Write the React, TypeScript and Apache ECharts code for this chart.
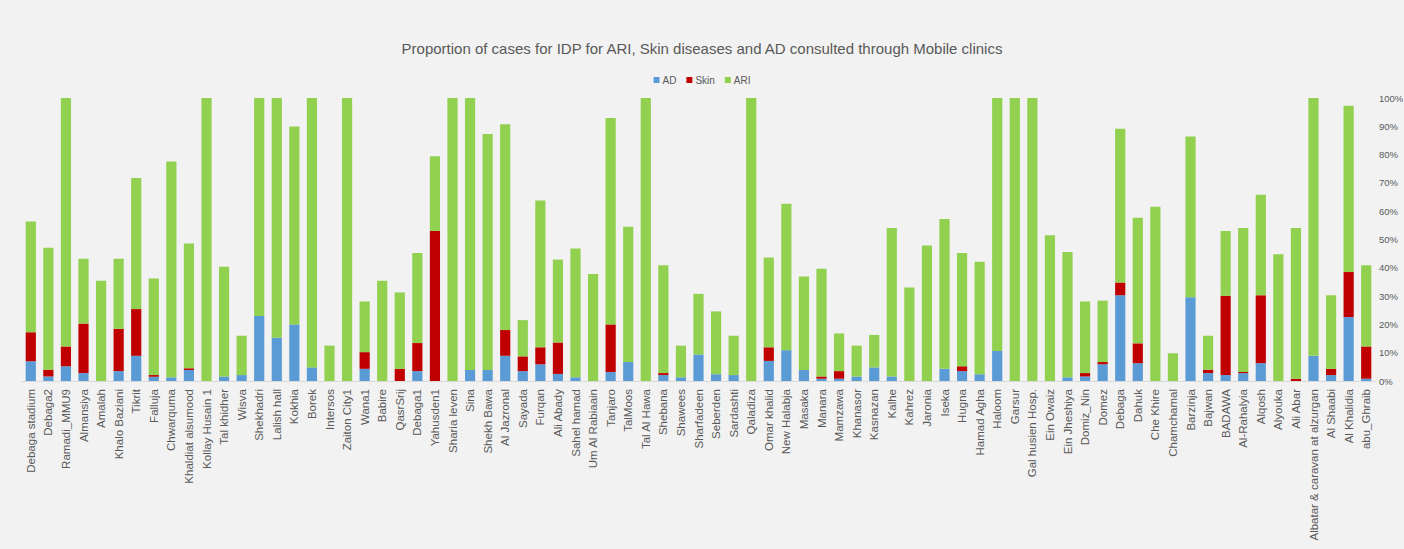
import React, { useEffect, useRef } from "react";
import * as echarts from "echarts";

const categories = [
  "Debaga stadium", "Debaga2", "Ramadi_MMU9", "Almansiya", "Amalah", "Khalo Baziani", "Tikrit", "Falluja",
  "Chwarquma", "Khaldiat alsumood", "Kollay Husain 1", "Tal khidher", "Wisva", "Shekhadri", "Lalish hall",
  "Kokhia", "Borek", "Intersos", "Zaiton City1", "Wana1", "Babire", "QasrSrij", "Debaga1", "Yahusden1",
  "Sharia leven", "Sina", "Shekh Bawa", "Al Jazronal", "Sayada", "Furqan", "Ali Abady", "Sahel hamad",
  "Um Al Rabiaain", "Tanjaro", "TalMoos", "Tal Al Hawa", "Shebana", "Shawees", "Sharfadeen", "Seberden",
  "Sardashti", "Qaladiza", "Omar khalid", "New Halabja", "Masaka", "Manara", "Mamzawa", "Khanasor",
  "Kasnazan", "Kalhe", "Kahrez", "Jaronia", "Iseka", "Hugna", "Hamad Agha", "Haloom", "Garsur",
  "Gal husien Hosp.", "Ein Owaiz", "Ein Jheshiya", "Domiz_Nin", "Domez", "Debaga", "Dahuk", "Che Khire",
  "Chamchamal", "Barzinja", "Bajwan", "BADAWA", "Al-Rahalyia", "Alqosh", "Alyouka", "Ali Abar",
  "Albatar & caravan at alzurgan", "Al Shaabi", "Al Khalidia", "abu_Ghraib",
];

const adValues = [
  7.0, 1.6, 5.2, 2.8, 0, 3.5, 8.9, 1.5,
  1.3, 3.9, 0, 1.6, 2.1, 23.0, 15.3,
  20.0, 4.8, 0, 0, 4.3, 0, 0, 3.5, 0,
  0, 3.9, 3.9, 8.9, 3.5, 5.9, 2.5, 1.3,
  0, 3.2, 6.7, 0, 2.1, 1.3, 9.4, 2.4,
  2.1, 0, 7.1, 10.9, 3.9, 0.8, 0.8, 1.6,
  4.8, 1.6, 0, 0, 4.3, 3.5, 2.4, 10.6, 0,
  0, 0, 1.3, 1.6, 5.9, 30.3, 6.3, 0,
  0, 29.6, 2.8, 2.1, 2.8, 6.3, 0, 0,
  8.9, 2.1, 22.6, 0.8,
];

const skinValues = [
  10.2, 2.4, 7.0, 17.5, 0, 14.9, 16.5, 0.6,
  0, 0.6, 0, 0, 0, 0, 0,
  0, 0, 0, 0, 5.9, 0, 4.3, 9.9, 53.0,
  0, 0, 0, 9.1, 5.2, 6.0, 11.1, 0,
  0, 16.8, 0, 0, 0.7, 0, 0, 0,
  0, 0, 4.8, 0, 0, 0.8, 2.7, 0,
  0, 0, 0, 0, 0, 1.7, 0, 0, 0,
  0, 0, 0, 1.2, 0.8, 4.5, 7.0, 0,
  0, 0, 1.2, 28.0, 0.4, 24.0, 0, 0.8,
  0, 2.2, 15.9, 11.4,
];

const ariValues = [
  39.2, 43.1, 87.8, 22.9, 35.4, 24.8, 46.3, 34.1,
  76.3, 44.1, 100, 38.8, 13.9, 77.0, 84.7,
  69.9, 95.2, 12.5, 100, 17.9, 35.4, 27.0, 31.8, 26.4,
  100, 96.1, 83.4, 72.7, 12.8, 51.9, 29.3, 45.5,
  37.8, 72.9, 47.8, 100, 38.1, 11.2, 21.4, 22.2,
  13.9, 100, 31.7, 51.7, 33.0, 38.1, 13.3, 10.9,
  11.5, 52.5, 33.0, 47.9, 52.9, 40.0, 39.7, 89.4, 100,
  100, 51.5, 44.3, 25.3, 21.7, 54.3, 44.4, 61.6,
  9.8, 56.8, 12.0, 22.9, 50.9, 35.5, 44.8, 53.3,
  91.1, 26.0, 58.8, 28.7,
];

const yTicks = [0, 10, 20, 30, 40, 50, 60, 70, 80, 90, 100];

const titleText = "Proportion of cases for IDP for ARI, Skin diseases and AD consulted through Mobile clinics";

export default function App() {
  const ref = useRef<HTMLDivElement>(null);
  useEffect(() => {
    if (!ref.current) return;
    const chart = echarts.init(ref.current, null, { renderer: "svg" });
    const font = "'Liberation Sans', Arial, sans-serif";
    chart.setOption({
      animation: false,
      backgroundColor: "#f2f2f2",
      title: {
        text: titleText,
        left: "center",
        top: 36,
        textStyle: { fontFamily: font, fontSize: 15, fontWeight: "normal", color: "#595959" },
      },
      legend: {
        top: 70,
        left: "center",
        icon: "rect",
        itemWidth: 6,
        itemHeight: 6,
        itemGap: 10,
        textStyle: { fontFamily: font, fontSize: 10, color: "#595959", padding: [0, 0, 0, -2] },
        data: ["AD", "Skin", "ARI"],
      },
      grid: { left: 22, right: 29, top: 98, bottom: 168, containLabel: false, outerBoundsMode: "none" },
      xAxis: {
        type: "category",
        data: categories,
        axisTick: { show: false },
        axisLine: { lineStyle: { color: "#d9d9d9" } },
        axisLabel: {
          interval: 0,
          rotate: 90,
          margin: 8,
          fontFamily: font,
          fontSize: 11.5,
          color: "#595959",
        },
      },
      yAxis: {
        type: "value",
        position: "right",
        min: yTicks[0],
        max: yTicks[yTicks.length - 1],
        interval: 10,
        splitLine: { show: false },
        axisLine: { show: false },
        axisTick: { show: false },
        axisLabel: {
          formatter: "{value}%",
          margin: 4,
          fontFamily: font,
          fontSize: 9.5,
          color: "#595959",
        },
      },
      series: [
        { name: "AD", type: "bar", stack: "total", data: adValues, barCategoryGap: "42%", itemStyle: { color: "#5b9bd5" } },
        { name: "Skin", type: "bar", stack: "total", data: skinValues, itemStyle: { color: "#c00000" } },
        { name: "ARI", type: "bar", stack: "total", data: ariValues, itemStyle: { color: "#92d050" } },
      ],
    });
    return () => chart.dispose();
  }, []);
  return (
    <div
      ref={ref}
      style={{ position: "absolute", left: 0, top: 0, width: 1404, height: 549, background: "#f2f2f2" }}
    />
  );
}
